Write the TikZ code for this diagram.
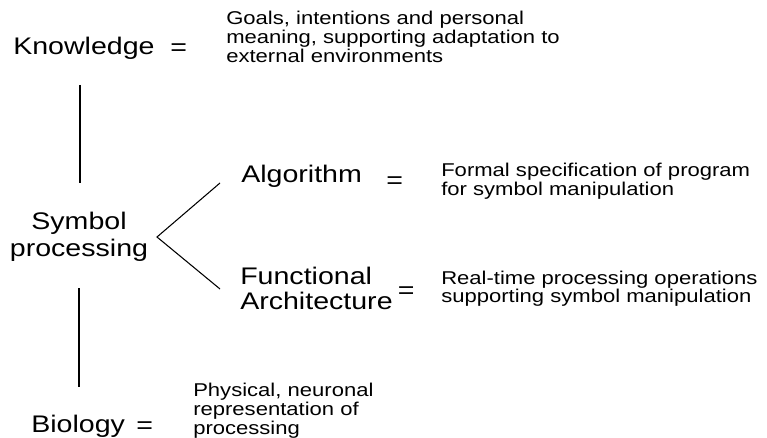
\documentclass[tikz,border=0pt]{standalone}
\usepackage{fontspec}
\setmainfont[FakeStretch=1.19]{Liberation Sans}
\newcommand{\stackl}[1]{\begin{tabular}[t]{@{}l@{}}#1\end{tabular}}
\newcommand{\stackc}[1]{\begin{tabular}[t]{@{}c@{}}#1\end{tabular}}
\tikzset{
  big/.style={font=\fontsize{18}{18.75}\selectfont, inner sep=0pt, anchor=base west},
  small/.style={font=\fontsize{13.9}{13.9}\selectfont, inner sep=0pt, anchor=base west},
  link/.style={line width=0.8pt, line cap=butt}
}
\begin{document}
\begin{tikzpicture}[x=0.75pt, y=-0.75pt]
\useasboundingbox (0,0) rectangle (767,438);
% top level
\node[big] (know) at (13,55) {Knowledge};
\node[big] (keq) at (170,55.6) {=};
\node[small] (kdef) at (226,25) {\stackl{Goals, intentions and personal\\meaning, supporting adaptation to\\external environments}};
% middle
\node[big, anchor=base, font=\fontsize{18}{20.25}\selectfont] (sym) at (79,230) {\stackc{Symbol\\processing}};
\node[big] (alg) at (241,183) {Algorithm};
\node[big] (aeq) at (386,189) {=};
\node[small] (adef) at (441,177) {\stackl{Formal specification of program\\for symbol manipulation}};
\node[big] (func) at (240,285) {\stackl{Functional\\Architecture}};
\node[big, fill=white, inner sep=4.6pt] (feq) at (391.5,298.5) {=};
\node[small] (fdef) at (441,284) {\stackl{Real-time processing operations\\supporting symbol manipulation}};
% bottom
\node[big] (bio) at (31,432) {Biology};
\node[big] (beq) at (136,433) {=};
\node[small] (bdef) at (193,396.5) {\stackl{Physical, neuronal\\representation of\\processing}};
% connector ends
\coordinate (kb) at (80,85);
\coordinate (st) at (80,183);
\coordinate (sb) at (79,288);
\coordinate (bt) at (79,387);
\coordinate (apex) at (157,237);
\coordinate (au) at (220,183);
\coordinate (fl) at (220,289);
\draw[link] (kb) -- (st);
\draw[link] (sb) -- (bt);
\draw[link] (au) -- (apex) -- (fl);
\end{tikzpicture}
\end{document}
